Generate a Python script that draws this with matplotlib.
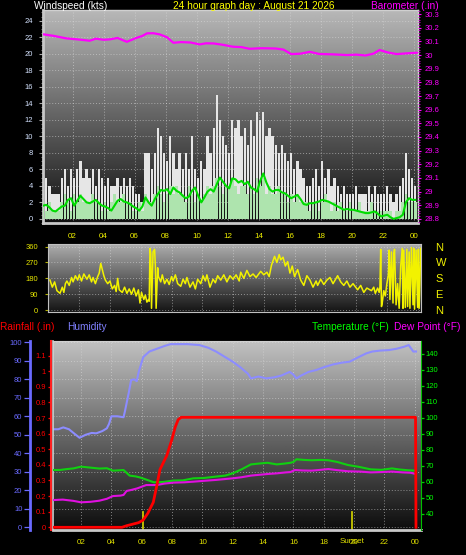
import numpy as np
import matplotlib.pyplot as plt
from matplotlib.ticker import MultipleLocator, FormatStrFormatter

plt.rcParams['font.family'] = ['Liberation Sans', 'DejaVu Sans']

# --------------------------------------------------
# data (hours since start of the 24 h window)

hour_ticks = [2, 4, 6, 8, 10, 12, 14, 16, 18, 20, 22, 24]
hour_labels = ['02', '04', '06', '08', '10', '12', '14', '16', '18', '20', '22', '00']

wind_t = np.arange(121) * 0.2 + 0.1
gust = [4, 5, 4, 3, 3,   3, 5, 6, 4, 6,   5, 6, 7, 5, 6,   5, 6, 4, 6, 5,
        4, 5, 4, 4, 5,   4, 5, 4, 5, 4,   3, 3, 2, 8, 8,   6, 8, 11, 10, 8,
        7, 10, 8, 6, 8,  6, 8, 6, 10, 6,  5, 7, 6, 10, 8,  11, 15, 12, 10, 9,
        8, 12, 11, 12, 10, 11, 9, 12, 10, 13, 12, 13, 10, 11, 10, 9, 8, 9, 8, 7,
        8, 6, 7, 6, 5,   4, 4, 5, 6, 4,   7, 5, 6, 4, 5,   4, 3, 4, 3, 3,
        3, 4, 3, 3, 3,   4, 3, 4, 3, 3,   3, 4, 3, 2, 3,   4, 5, 8, 6, 5,
        4]
wind = [2, 1, 2, 1, 1,   1, 2, 3, 2, 1,   3, 2, 3, 2, 2,   2, 3, 2, 2, 1,
        2, 1, 2, 3, 2,   2, 3, 2, 2, 1,   1, 2, 1, 3, 2,   2, 3, 4, 3, 2,
        3, 4, 3, 4, 3,   3, 2, 4, 3, 2,   3, 2, 3, 4, 3,   4, 5, 4, 3, 4,
        4, 5, 4, 3, 4,   4, 3, 4, 3, 5,   4, 5, 3, 4, 3,   3, 4, 3, 3, 2,
        3, 2, 3, 2, 2,   2, 1, 2, 2, 1,   2, 3, 2, 1, 2,   1, 2, 1, 1, 2,
        1, 1, 2, 1, 1,   1, 2, 1, 1, 1,   1, 1, 1, 0, 1,   1, 2, 3, 2, 2,
        2]
wind_avg = [1.6, 1.7, 1.4, 1.0, 0.9,  1.2, 1.5, 1.6, 2.3, 2.5,  1.6, 2.2, 2.8, 2.4, 2.0,
            1.9, 2.1, 2.3, 1.9, 1.6,  1.5, 1.3, 1.0, 1.6, 2.2,  2.4, 2.1, 2.0, 1.8, 1.5,
            1.3, 1.0, 1.5, 2.6, 2.0,  1.6, 2.4, 3.0, 3.5, 3.4,  3.6, 3.0, 3.8, 3.4, 3.2,
            2.8, 2.5, 2.7, 3.4, 3.8,  2.8, 2.0, 2.6, 3.3, 3.6,  3.3, 4.2, 5.0, 4.5, 4.0,
            3.7, 4.9, 4.8, 4.4, 4.6,  4.2, 4.5, 3.8, 3.6, 3.3,  4.6, 5.5, 4.4, 3.6, 3.3,
            3.5, 3.5, 3.2, 3.1, 2.8,  2.5, 2.7, 2.9, 2.4, 1.8,  1.7, 1.9, 1.9, 2.0, 2.1,
            2.3, 2.2, 2.1, 1.9, 1.7,  1.5, 1.3, 1.1, 1.2, 1.1,  1.1, 1.0, 0.9, 0.8, 0.7,
            0.7, 0.8, 0.9, 0.6, 0.3,  0.4, 0.5, 0.2, 0.0, 0.1,  0.2, 0.5, 2.0, 2.5, 2.3,
            2.3]

baro_t = [0.1, 0.8, 1.6, 2.3, 3.1, 3.5, 4.0, 4.4, 4.9, 5.5, 6.1, 6.5, 6.8, 7.2, 7.6,
          8.1, 8.5, 9.0, 9.6, 10.2, 10.6, 11.1, 11.7, 12.35, 12.9, 13.4, 14.2, 15.1,
          15.6, 16.1, 16.7, 17.3, 17.9, 18.8, 19.7, 20.3, 20.9, 21.4, 21.8, 22.3,
          22.9, 23.5, 24.2]
baro = [30.152, 30.14, 30.122, 30.115, 30.105, 30.12, 30.112, 30.115, 30.125, 30.097,
        30.125, 30.14, 30.159, 30.16, 30.152, 30.13, 30.09, 30.095, 30.092, 30.078,
        30.086, 30.085, 30.075, 30.061, 30.058, 30.046, 30.05, 30.048, 30.04, 30.007,
        30.01, 30.024, 30.008, 30.005, 30.0, 30.003, 29.997, 30.01, 30.037, 30.02,
        30.007, 30.012, 30.017]

dir_t = [0.1, 0.25, 0.4, 0.55, 0.75, 0.9, 1.0, 1.1, 1.2, 1.35,
         1.5, 1.6, 1.75, 1.9, 2.0, 2.15, 2.3, 2.5, 2.65, 2.8,
         2.9, 3.05, 3.2, 3.3, 3.4, 3.5, 3.6, 3.7, 3.85, 4.0,
         4.15, 4.3, 4.4, 4.5, 4.6, 4.8, 4.95, 5.1, 5.25, 5.4,
         5.55, 5.7, 5.85, 5.95, 6.05, 6.2, 6.3, 6.4, 6.5, 6.55,
         6.6, 6.65, 6.7, 6.8, 6.9, 6.95, 7.0, 7.1, 7.15, 7.3,
         7.4, 7.55, 7.7, 7.85, 8.0, 8.1, 8.25, 8.4, 8.6, 8.75,
         8.9, 9.0, 9.2, 9.4, 9.55, 9.7, 9.9, 10.05, 10.2, 10.3,
         10.5, 10.7, 10.85, 11.0, 11.2, 11.4, 11.6, 11.8, 12.0, 12.2,
         12.4, 12.5, 12.7, 12.9, 13.1, 13.3, 13.5, 13.8, 14.0, 14.2,
         14.35, 14.5, 14.6, 14.7, 14.85, 15.0, 15.1, 15.25, 15.4, 15.55,
         15.7, 15.85, 16.0, 16.2, 16.4, 16.6, 16.8, 17.0, 17.2, 17.4,
         17.5, 17.7, 17.9, 18.1, 18.3, 18.5, 18.8, 19.0, 19.2, 19.4,
         19.6, 19.8, 20.1, 20.3, 20.5, 20.7, 21.0, 21.15, 21.25, 21.4,
         21.5, 21.55, 21.6, 21.65, 21.7, 21.8, 21.9, 22.0, 22.1, 22.15,
         22.2, 22.3, 22.4, 22.45, 22.5, 22.6, 22.7, 22.8, 22.9, 23.0,
         23.05, 23.1, 23.2, 23.3, 23.35, 23.45, 23.5, 23.6, 23.7, 23.75,
         23.8, 23.9, 24.0, 24.05, 24.1, 24.2]
dir_v = [170, 130, 160, 110, 95, 130, 100, 150, 165, 140,
         185, 160, 195, 170, 200, 165, 205, 175, 200, 160,
         185, 150, 190, 210, 265, 230, 195, 170, 150, 165,
         120, 140, 105, 180, 115, 100, 130, 95, 120, 90,
         125, 80, 115, 40, 100, 60, 85, 45, 60, 50,
         350, 320, 10, 330, 345, 250, 10, 240, 190, 160,
         200, 150, 175, 145, 190, 165, 200, 150, 135, 175,
         150, 185, 130, 160, 120, 175, 150, 195, 165, 200,
         130, 175, 155, 195, 170, 200, 160, 195, 175, 200,
         165, 215, 180, 225, 190, 205, 185, 220, 200, 215,
         190, 255, 280, 305, 270, 315, 285, 300, 250, 275,
         210, 250, 190, 230, 170, 140, 195, 170, 130, 165,
         140, 175, 145, 170, 185, 150, 195, 160, 140, 165,
         130, 150, 115, 140, 100, 125, 110, 130, 95, 125,
         100, 130, 345, 20, 40, 110, 80, 150, 200, 340,
         60, 330, 40, 320, 345, 30, 150, 10, 250, 350,
         10, 340, 15, 345, 20, 330, 10, 355, 30, 350,
         5, 340, 15, 345, 10, 350]

hum_t = [0.15, 0.5, 0.83, 1.2, 1.5, 1.9, 2.3, 2.7, 3.0, 3.4, 3.7, 3.85, 4.0, 4.4, 4.8,
         4.9, 5.0, 5.15, 5.3, 5.5, 5.67, 5.8, 6.1, 6.5, 7.0, 7.5, 7.9, 8.5, 9.0, 9.8,
         10.4, 10.9, 11.5, 12.0, 12.5, 13.0, 13.2, 13.7, 14.2, 14.7, 15.2, 15.75, 16.0,
         16.2, 16.5, 17.0, 17.5, 18.0, 18.6, 19.2, 19.7, 20.3, 20.8, 21.2, 21.7, 22.3,
         22.8, 23.3, 23.6, 23.9, 24.08]
hum = [53, 53, 54, 53, 51, 48.4, 50, 51, 50.8, 52, 53.5, 56, 60, 60, 59.5,
       63, 67, 73, 79.6, 80, 79, 84, 92, 95, 96.5, 98, 99, 99, 99, 98.5,
       97, 95, 92, 89.5, 86.5, 83, 80.5, 81.5, 80.5, 81, 82, 84, 82.5,
       80.5, 82, 84, 85, 86.5, 88, 89, 89.5, 92, 94, 95, 95.5, 95.8,
       96.5, 97.6, 98.5, 95, 95]

rain_t = [0.15, 4.7, 5.0, 5.4, 5.8, 6.1, 6.4, 6.76, 7.0, 7.2, 7.45, 7.65, 7.98, 8.2,
          8.4, 8.6, 24.05, 24.08]
rain = [0, 0, 0.01, 0.02, 0.03, 0.047, 0.09, 0.16, 0.27, 0.37, 0.42, 0.46, 0.56, 0.64,
        0.69, 0.705, 0.705, 0]

temp_t = [0.15, 0.6, 1.0, 1.5, 2.0, 2.6, 3.2, 3.7, 4.1, 4.5, 4.8, 5.2, 5.6, 5.9, 6.3,
          6.8, 7.4, 8.1, 8.7, 9.4, 10.1, 10.9, 11.5, 12.0, 12.6, 13.2, 13.7, 14.3, 14.9,
          15.4, 15.8, 16.0, 16.2, 16.7, 17.2, 17.8, 18.3, 18.9, 19.6, 20.3, 21.1, 21.8,
          22.5, 23.0, 23.6, 24.08]
temp = [67.5, 67.5, 68, 68.5, 69.6, 69, 68.4, 68.6, 67.1, 67.3, 67.5, 64, 63.5, 62.8, 61.5,
        59.8, 60, 60.9, 61, 62.3, 62.5, 63.4, 64, 65.4, 68, 71, 71.5, 72, 71,
        71.5, 72, 72.5, 74.2, 73.8, 73.6, 73.8, 73.6, 72.5, 70.6, 69.5, 67.9, 67.6,
        68.5, 67.8, 67.3, 67.1]

dew_t = [0.15, 0.8, 1.5, 2.0, 2.6, 3.2, 3.7, 4.1, 4.6, 4.8, 5.0, 5.3, 5.7, 6.3, 7.0,
         7.5, 8.1, 8.8, 9.4, 10.2, 10.9, 12.0, 12.6, 13.2, 14.3, 14.9, 15.5, 15.8, 16.1,
         16.6, 17.2, 17.8, 18.3, 18.8, 19.6, 20.4, 21.1, 21.8, 22.5, 23.2, 23.7, 24.08]
dew = [48.7, 49, 48.2, 47.3, 47.6, 48.3, 49.5, 51.2, 51.5, 51.9, 54.4, 55, 56, 58.1, 58.1,
       59, 59.6, 59.8, 60.2, 60.8, 61.3, 62.3, 63, 64, 65, 65.4, 66, 66.2, 67.5,
       67.2, 67.1, 67.6, 68.1, 67.5, 66.7, 66.5, 66, 66.2, 66.5, 66, 65.8, 65]

sunrise = 6.1
sunset = 19.85

# --------------------------------------------------
# helpers

W, H = 466, 555
fig = plt.figure(figsize=(W / 100, H / 100), dpi=100, facecolor='black')


def box(l, t, r, b):
    # axes from pixel edges (origin top-left)
    return fig.add_axes([l / W, 1 - b / H, (r - l) / W, (b - t) / H])


def shade(ax, top, bottom):
    g = np.linspace(top, bottom, 256).reshape(-1, 1)
    ax.imshow(g, cmap='gray', vmin=0, vmax=1, aspect='auto',
              extent=(0, 1, 0, 1), transform=ax.transAxes, zorder=0)


def dotted_grid(ax, axis='both'):
    ax.grid(True, axis=axis, color='#dcdcdc', linestyle=(0, (1, 2)),
            linewidth=0.7, alpha=0.55)


def hide_spines(ax, keep=()):
    for name, sp in ax.spines.items():
        sp.set_visible(name in keep)


# --------------------------------------------------
# wind speed + barometer

ax1 = box(43, 10, 418, 223)
shade(ax1, 0.72, 0.06)
ax1.bar(wind_t, np.array(gust) - np.array(wind), bottom=wind, width=0.15,
        color='#e6e6e6', linewidth=0, zorder=2)
ax1.bar(wind_t, wind, width=0.17, color='#aee4ae', linewidth=0, zorder=3)
ax1.plot(wind_t, wind_avg, color='#00dc00', linewidth=1.5, zorder=4)
ax1.set_xlim(0.09, 24.28)
ax1.set_ylim(-0.5, 25.3)
ax1.set_yticks(range(0, 25, 2))
ax1.yaxis.set_minor_locator(MultipleLocator(0.5))
ax1.set_xticks(hour_ticks, hour_labels)
ax1.tick_params(axis='y', colors='#a8a8a8', labelcolor='#d4e2ff', labelsize=5.5,
                length=3, width=0.8, pad=4)
ax1.tick_params(axis='y', which='minor', colors='#909090', length=1.5)
ax1.tick_params(axis='x', length=0, labelcolor='#eeee00', labelsize=5.8, pad=7)
dotted_grid(ax1)
for name in ['left', 'bottom']:
    ax1.spines[name].set_color('#c8c8c8')
    ax1.spines[name].set_linewidth(2)
for name in ['top', 'right']:
    ax1.spines[name].set_color('#d0d0d0')
    ax1.spines[name].set_linewidth(1)

ax1b = ax1.twinx()
ax1b.plot(baro_t, baro, color='#ff00ff', linewidth=1.6, zorder=5)
ax1b.set_ylim(28.77, 30.33)
ax1b.yaxis.set_major_locator(MultipleLocator(0.1))
ax1b.yaxis.set_major_formatter(FormatStrFormatter('%g'))
ax1b.yaxis.set_minor_locator(MultipleLocator(0.02))
ax1b.tick_params(axis='y', colors='#ff00ff', labelsize=5.5, length=2, width=0.8, pad=3)
ax1b.tick_params(axis='y', which='minor', colors='#d000d0', length=1.5)
hide_spines(ax1b)

# --------------------------------------------------
# wind direction

ax2 = box(48, 244, 421, 312)
shade(ax2, 0.68, 0.08)
ax2.plot(dir_t, dir_v, color='#f2f200', linewidth=1.1, zorder=3)
ax2.set_xlim(-0.03, 24.22)
ax2.set_ylim(-11, 375)
ax2.set_yticks([0, 90, 180, 270, 360])
ax2.set_xticks(hour_ticks)
ax2.tick_params(axis='x', length=0, labelbottom=False)
ax2.tick_params(axis='y', colors='#b0b000', labelcolor='#e6e600', labelsize=5.5,
                length=2, pad=5)
dotted_grid(ax2)
for sp in ax2.spines.values():
    sp.set_color('#c0c0c0')

ax2r = ax2.twinx()
ax2r.set_ylim(-11, 375)
ax2r.set_yticks([0, 90, 180, 270, 360], ['N', 'E', 'S', 'W', 'N'])
ax2r.tick_params(axis='y', length=0, labelcolor='#f0f000', labelsize=8, pad=10.5)
hide_spines(ax2r)

# --------------------------------------------------
# humidity (base), temperature / dew point, rainfall

ax3 = box(53, 340.7, 421, 530)
shade(ax3, 0.76, 0.05)
ax3.plot(hum_t, hum, color='#8c8cff', linewidth=1.5, zorder=3)
ax3.axvline(sunrise, ymin=0, ymax=0.097, color='#c8c800', linewidth=1.3, zorder=2)
ax3.axvline(sunset, ymin=0, ymax=0.097, color='#c8c800', linewidth=1.3, zorder=2)
ax3.set_xlim(0.15, 24.41)
ax3.set_ylim(-1.46, 100.86)
ax3.yaxis.set_major_locator(MultipleLocator(10))
ax3.yaxis.set_minor_locator(MultipleLocator(2))
ax3.set_xticks(hour_ticks, hour_labels)
ax3.tick_params(axis='y', colors='#6a6aff', labelsize=5.5, length=4, width=0.9, pad=1.5)
ax3.tick_params(axis='y', which='minor', length=2)
ax3.tick_params(axis='x', length=0, labelcolor='#e0e000', labelsize=5.8, pad=6.5)
ax3.text(sunset, -0.063, 'Sunset', transform=ax3.get_xaxis_transform(),
         ha='center', va='center', color='#e0e000', fontsize=5.8)
dotted_grid(ax3)
ax3.spines['left'].set_position(('outward', 23 * 0.72))
ax3.spines['left'].set_color('#6a6aff')
ax3.spines['left'].set_linewidth(2)
ax3.spines['bottom'].set_color('#c8c8c8')
ax3.spines['bottom'].set_linewidth(2)
ax3.spines['top'].set_color('#d0d0d0')
ax3.spines['right'].set_visible(False)

ax3t = ax3.twinx()
ax3t.plot(temp_t, temp, color='#10d010', linewidth=1.5, zorder=3)
ax3t.plot(dew_t, dew, color='#e010e0', linewidth=1.5, zorder=3)
ax3t.set_ylim(30, 148.3)
ax3t.set_yticks(range(40, 141, 10))
ax3t.yaxis.set_minor_locator(MultipleLocator(2))
ax3t.tick_params(axis='y', colors='#00d000', labelcolor='#00ff00', labelsize=5.5,
                 length=2.5, width=0.9, pad=1)
ax3t.tick_params(axis='y', which='minor', length=1.5)
hide_spines(ax3t, keep=('right', 'left'))
ax3t.spines['right'].set_color('#00c000')
ax3t.spines['left'].set_color('#d0d0d0')
ax3t.spines['left'].set_linewidth(1.2)

ax3r = ax3.twinx()
ax3r.plot(rain_t, rain, color='#ff0000', linewidth=2, zorder=4)
ax3r.set_ylim(-0.0173, 1.196)
ax3r.yaxis.tick_left()
ax3r.yaxis.set_major_locator(MultipleLocator(0.1))
ax3r.yaxis.set_major_formatter(FormatStrFormatter('%g'))
ax3r.yaxis.set_minor_locator(MultipleLocator(0.02))
ax3r.tick_params(axis='y', colors='#ff0000', labelsize=5.5, length=2, width=0.9, pad=2)
ax3r.tick_params(axis='y', which='minor', length=1.2)
hide_spines(ax3r, keep=('left',))
ax3r.spines['left'].set_position(('outward', 1.2))
ax3r.spines['left'].set_color('#ff2020')
ax3r.spines['left'].set_linestyle((0, (2, 1)))
ax3r.spines['left'].set_linewidth(1.5)

# --------------------------------------------------
# headings


def label(x, y, s, color):
    fig.text(x / W, 1 - y / H, s, color=color, fontsize=7.3, ha='left', va='center')


label(34, 6, 'Windspeed (kts)', 'white')
label(172.7, 6, '24 hour graph day : August 21 2026', '#ffff00')
label(371, 6, 'Barometer (.in)', '#ff00ff')
label(0, 326.5, 'Rainfall (.in)', '#ff0000')
label(67, 326.5, 'Humidity', '#8080ff')
label(312, 326.5, 'Temperature (°F)', '#00ff00')
label(394.5, 326.5, 'Dew Point (°F)', '#ff00ff')

fig.savefig('out.png', dpi=100, facecolor='black')
